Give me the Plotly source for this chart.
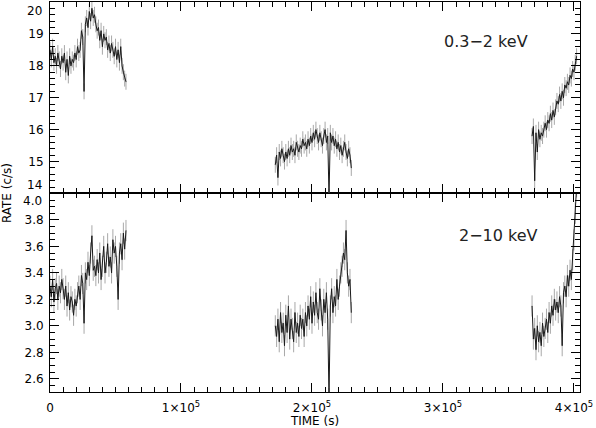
import plotly.graph_objects as go

# time bins (s) for the three observation segments
t_seg1 = list(range(0, 59000, 1000))
t_seg2 = list(range(172000, 231000, 1000))
t_seg3 = list(range(368000, 403000, 1000))

# 0.3-2 keV rate (c/s)
soft_seg1 = [18.5, 18.2, 18.6, 18.1, 18.3, 18.0, 18.4, 18.2, 17.9, 18.3,
             18.1, 18.4, 17.8, 18.2, 17.7, 18.3, 18.0, 18.2, 18.1, 18.4,
             18.2, 18.6, 18.4, 18.5, 19.1, 18.9,
             17.2,
             19.3, 19.5, 19.2, 19.7, 19.4, 19.8, 19.5, 19.6, 19.3,
             19.1, 19.2, 18.8, 19.1, 18.6, 19.0, 18.8, 18.9, 18.5, 18.7,
             18.4, 18.7, 18.5, 18.3, 18.6, 18.2, 18.5, 18.1, 18.6, 18.0, 17.8, 17.6, 17.5]
soft_seg2 = [14.9, 15.2, 14.5, 15.3, 15.1, 15.4, 15.2, 15.0, 15.3, 15.1,
             15.4, 15.2, 15.5, 15.3, 15.4, 15.2, 15.6, 15.4, 15.3, 15.5,
             15.4, 15.7, 15.5, 15.6, 15.4, 15.7, 15.5, 15.8, 15.6, 15.9,
             15.7, 16.0, 15.8, 15.6, 15.9, 15.7, 15.5, 15.8, 16.0, 15.6, 15.8,
             13.9,
             15.9, 15.6, 15.8, 15.5, 15.7, 15.4, 15.6, 15.3, 15.5, 15.2, 15.4, 15.6, 15.3, 15.1, 15.4, 15.2, 14.8]
soft_seg3 = [15.8, 16.1, 14.4, 15.9, 15.3, 16.0, 15.7, 15.9, 15.8, 16.0,
             16.2, 16.0, 16.3, 16.2, 16.5, 16.3, 16.6, 16.4, 16.7, 16.9,
             16.8, 17.1, 16.9, 17.2, 17.0, 17.4, 17.3, 17.5, 17.4, 17.7,
             17.6, 17.9, 17.8, 18.1, 18.3]

# 2-10 keV rate (c/s)
hard_seg1 = [3.30, 3.22, 3.35, 3.18, 3.28, 3.32, 3.20, 3.30, 3.25, 3.35,
             3.28, 3.20, 3.30, 3.15, 3.25, 3.12, 3.22, 3.18, 3.08, 3.20,
             3.15, 3.25, 3.30, 3.20, 3.38, 3.32,
             3.02,
             3.40, 3.35, 3.48, 3.38, 3.55, 3.68, 3.42, 3.45, 3.38,
             3.50, 3.40, 3.55, 3.35, 3.45, 3.60, 3.40, 3.48, 3.62, 3.45,
             3.52, 3.40, 3.65, 3.55, 3.60, 3.45, 3.20, 3.55, 3.62, 3.50, 3.70, 3.58, 3.72]
hard_seg2 = [3.00, 2.92, 3.05, 2.88, 3.10, 2.95, 3.02, 2.85, 3.08, 2.95,
             3.15, 2.90, 3.05, 2.98, 2.88, 3.10, 2.95, 3.02, 2.92, 3.08,
             2.98, 3.05, 2.92, 3.10, 3.00, 3.15, 3.05, 3.22, 3.02, 3.18,
             3.08, 3.25, 3.10, 3.05, 3.28, 3.12, 3.00, 3.20, 3.10, 3.25, 3.05,
             2.45,
             3.15, 3.28, 3.10, 3.22, 3.15, 3.35, 3.20, 3.30, 3.40, 3.45, 3.55, 3.50, 3.72, 3.40, 3.30, 3.35, 3.10]
hard_seg3 = [3.15, 2.90, 2.98, 2.82, 3.00, 2.88, 2.95, 2.85, 3.02, 2.92,
             2.98, 3.05, 2.95, 3.10, 3.02, 3.15, 3.08, 3.20, 3.12, 3.18,
             3.10, 3.22, 3.15, 2.85, 3.25, 3.30, 3.22, 3.38, 3.30, 3.42,
             3.35, 3.50, 3.65, 3.85, 4.05]

soft_err = 0.25
hard_err = 0.08

x_ticks = [0, 100000, 200000, 300000, 400000]
x_ticktext = ["0", "1×10<sup>5</sup>", "2×10<sup>5</sup>", "3×10<sup>5</sup>", "4×10<sup>5</sup>"]
soft_ticks = [14, 15, 16, 17, 18, 19, 20]
hard_ticks = [2.6, 2.8, 3.0, 3.2, 3.4, 3.6, 3.8, 4.0]

FONT = "DejaVu Sans"

fig = go.Figure()

def add_curve(t, rate, err, xa, ya):
    # grey error bars drawn first, black line on top
    fig.add_trace(go.Scatter(x=t, y=rate, mode="markers", marker=dict(size=1, color="#999999"),
                             error_y=dict(type="constant", value=err, color="#a8a8a8", thickness=1, width=0),
                             xaxis=xa, yaxis=ya, showlegend=False, hoverinfo="skip"))
    fig.add_trace(go.Scatter(x=t, y=rate, mode="lines", line=dict(color="#1a1a1a", width=1),
                             xaxis=xa, yaxis=ya, showlegend=False))

for t, r in [(t_seg1, soft_seg1), (t_seg2, soft_seg2), (t_seg3, soft_seg3)]:
    add_curve(t, r, soft_err, "x2", "y2")
for t, r in [(t_seg1, hard_seg1), (t_seg2, hard_seg2), (t_seg3, hard_seg3)]:
    add_curve(t, r, hard_err, "x", "y")

axis_style = dict(showline=True, linecolor="black", linewidth=1, mirror="ticks", automargin=False,
                  ticks="inside", tickcolor="black", ticklen=9, showgrid=False, zeroline=False,
                  tickfont=dict(family=FONT, size=12, color="black"))

split = 0.509

# the end labels of the y axes sit inside the panel edge, IDL style
soft_text = ["" if v in (14, 20) else str(v) for v in soft_ticks]
hard_text = ["" if v == 4.0 else f"{v:.1f}" for v in hard_ticks]

fig.update_layout(
    width=596, height=428,
    margin=dict(l=50, r=16, t=2, b=36, autoexpand=False),
    plot_bgcolor="white", paper_bgcolor="white",
    font=dict(family=FONT, size=12, color="black"),
    xaxis=dict(range=[0, 404600], tickvals=x_ticks, ticktext=x_ticktext, anchor="y", ticklabelstandoff=5,
               minor=dict(dtick=10000, ticklen=5, ticks="inside", tickcolor="black"),
               title=dict(text="TIME (s)", font=dict(size=12), standoff=6), **axis_style),
    xaxis2=dict(range=[0, 404600], tickvals=x_ticks, showticklabels=False, anchor="y2", matches="x",
                minor=dict(dtick=10000, ticklen=5, ticks="inside", tickcolor="black"), **axis_style),
    yaxis=dict(domain=[0, split], range=[2.5, 4.0], tickvals=hard_ticks, ticktext=hard_text, ticklabelstandoff=3,
               minor=dict(dtick=0.05, ticklen=5, ticks="inside", tickcolor="black"), **axis_style),
    yaxis2=dict(domain=[split, 1], range=[14, 20], tickvals=soft_ticks, ticktext=soft_text, ticklabelstandoff=3,
                minor=dict(dtick=0.2, ticklen=5, ticks="inside", tickcolor="black"), **axis_style),
)

edge_font = dict(family=FONT, size=12, color="black")
fig.add_annotation(text="20", xref="paper", yref="y2", x=0, y=20, xanchor="right", yanchor="top",
                   xshift=-6, showarrow=False, font=edge_font)
fig.add_annotation(text="14", xref="paper", yref="y2", x=0, y=14, xanchor="right", yanchor="bottom",
                   xshift=-6, yshift=-1, showarrow=False, font=edge_font)
fig.add_annotation(text="4.0", xref="paper", yref="y", x=0, y=4.0, xanchor="right", yanchor="top",
                   xshift=-6, yshift=1, showarrow=False, font=edge_font)

fig.add_annotation(text="0.3−2 keV", xref="x2 domain", yref="y2 domain", x=0.906, y=0.796,
                   xanchor="right", yanchor="middle", showarrow=False,
                   font=dict(family=FONT, size=16, color="#222222"))
fig.add_annotation(text="2−10 keV", xref="x domain", yref="y domain", x=0.925, y=0.79,
                   xanchor="right", yanchor="middle", showarrow=False,
                   font=dict(family=FONT, size=16, color="#222222"))
fig.add_annotation(text="RATE (c/s)", xref="paper", yref="paper", x=-0.08, y=split,
                   textangle=-90, showarrow=False, xanchor="center", yanchor="middle",
                   font=dict(family=FONT, size=12, color="black"))

fig.write_html("out.html", config={"displayModeBar": False},
               post_script="document.body.style.margin='0';")
